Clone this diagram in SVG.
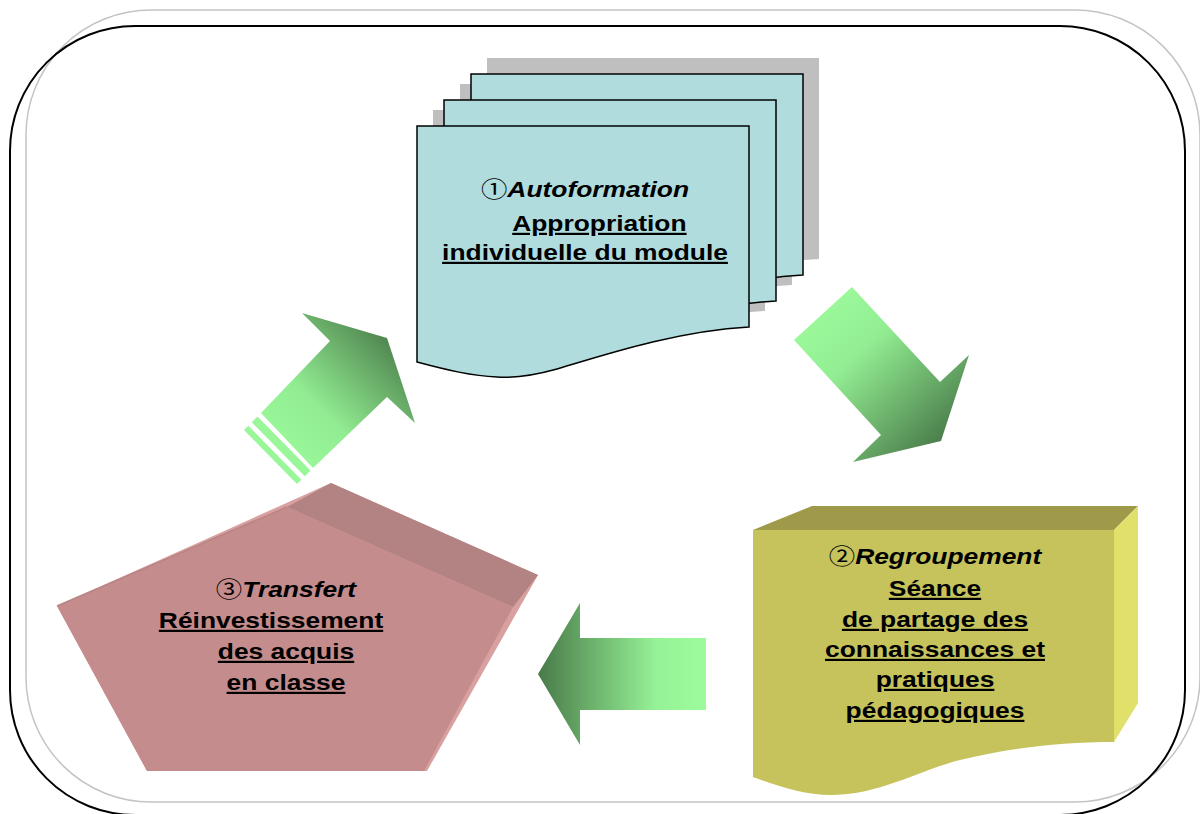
<svg xmlns="http://www.w3.org/2000/svg" xmlns:xlink="http://www.w3.org/1999/xlink" width="1200" height="814" viewBox="0 0 1200 814">
<style>
.t{font-family:"Liberation Sans",Arial,sans-serif;font-size:22px;font-weight:bold;fill:#000;text-anchor:middle}
.h{font-style:italic}
.u{text-decoration:underline}
.c{font-family:"Noto Sans CJK JP","DejaVu Sans",sans-serif;font-style:normal;font-weight:normal}
.page{fill:#B0DCDE;stroke:#000;stroke-width:1.5}
.shadow{fill:#BFBFBF}
.stripe{fill:#99F699}
</style>
<defs>
<path id="doc" d="M0,0 H332 V201 C260,205 190,228 140,243 C115,250 95,252 80,251 C55,250 30,244 0,236 Z"/>
<linearGradient id="g1" gradientUnits="userSpaceOnUse" x1="280" y1="452" x2="398" y2="335">
<stop offset="0" stop-color="#9AF89A"/><stop offset="0.35" stop-color="#92ED92"/><stop offset="1" stop-color="#4A7C4A"/>
</linearGradient>
<linearGradient id="g2" gradientUnits="userSpaceOnUse" x1="823" y1="313" x2="945" y2="440">
<stop offset="0" stop-color="#9AF89A"/><stop offset="0.3" stop-color="#93EE93"/><stop offset="1" stop-color="#4A7C4A"/>
</linearGradient>
<linearGradient id="g3" gradientUnits="userSpaceOnUse" x1="706" y1="0" x2="540" y2="0">
<stop offset="0" stop-color="#9CFC9C"/><stop offset="0.3" stop-color="#96F296"/><stop offset="1" stop-color="#4A7C4A"/>
</linearGradient>
</defs>

<g id="frame" fill="none">
<rect x="26" y="10" width="1174" height="792" rx="125" ry="125" stroke="#C4C4C4" stroke-width="1.5"/>
<rect x="10" y="26" width="1175" height="789" rx="125" ry="125" stroke="#000" stroke-width="2"/>
</g>

<g id="node1">
<use xlink:href="#doc" class="shadow" transform="translate(487,58)"/>
<use xlink:href="#doc" class="shadow" transform="translate(460,84)"/>
<use xlink:href="#doc" class="shadow" transform="translate(433,110)"/>
<use xlink:href="#doc" class="page" transform="translate(471,74)"/>
<use xlink:href="#doc" class="page" transform="translate(444,100)"/>
<use xlink:href="#doc" class="page" transform="translate(417,126)"/>
<g transform="translate(585,0) scale(1.2,1)">
<text class="t h" x="0" y="197"><tspan class="c">①</tspan>Autoformation</text>
<text class="t u" x="12" y="231">Appropriation</text>
<text class="t u" x="0" y="260">individuelle du module</text>
</g>
</g>

<g id="node2">
<polygon points="753,530 812,506 1138,506 1114,530" fill="#9E9A4A"/>
<polygon points="1114,530 1138,506 1138,703 1114,742" fill="#E0E06A"/>
<path d="M753,530 H1114 V742 C1060,742 1010,748 960,760 C920,770 880,795 830,795 C805,795 780,787 753,777 Z" fill="#C6C35C"/>
<g transform="translate(935,0) scale(1.2,1)">
<text class="t h" x="0" y="564"><tspan class="c">②</tspan>Regroupement</text>
<text class="t u" x="0" y="596">Séance</text>
<text class="t u" x="0" y="627">de partage des</text>
<text class="t u" x="0" y="657">connaissances et</text>
<text class="t u" x="0" y="687">pratiques</text>
<text class="t u" x="0" y="718">pédagogiques</text>
</g>
</g>

<g id="node3">
<polygon points="331,483 538,575 427,771 147,771 57,606" fill="#D9A0A0"/>
<polygon points="287,507 331,483 538,575 513,607" fill="#B38282"/>
<polygon points="57,606 287,507 513,607 424,771 147,771" fill="#C48C8C"/>
<line x1="57" y1="606" x2="287" y2="507" stroke="#B88484" stroke-width="1.5"/>
<g transform="translate(286,0) scale(1.2,1)">
<text class="t h" x="0" y="597"><tspan class="c">③</tspan>Transfert</text>
<text class="t u" x="-12.5" y="628">Réinvestissement</text>
<text class="t u" x="0" y="659">des acquis</text>
<text class="t u" x="0" y="690">en classe</text>
</g>
</g>

<g id="connectors">
<g id="arrow3to1">
<polygon points="302,313 387,338 415,423 387,397 313,468 261,413 330,341" fill="url(#g1)"/>
<polygon class="stripe" points="257.5,416.5 310.5,470.5 304.8,476.2 251.8,422.2"/>
<polygon class="stripe" points="248.3,425.7 301.3,479.7 297,484 244,430"/>
</g>
<polygon id="arrow1to2" points="852,287 940,382 969,355 941,441 853,462 881,435 794,340" fill="url(#g2)"/>
<polygon id="arrow2to3" points="538,674 580,603 580,638 706,638 706,710 580,710 580,745" fill="url(#g3)"/>
</g>
</svg>
